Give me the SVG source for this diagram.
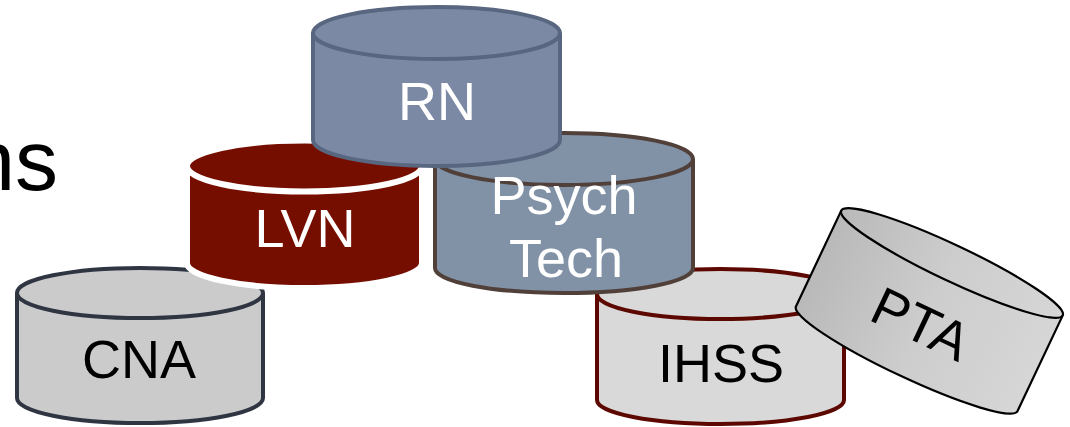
<svg xmlns="http://www.w3.org/2000/svg" width="1070" height="427" viewBox="0 0 1070 427">
<style>
  .lbl { font-family: "Liberation Sans", Arial, sans-serif; font-size: 54px; text-anchor: middle; }
  .w { fill: #ffffff; }
  .k { fill: #000000; }
  .body { stroke-linejoin: round; }
  .rim { fill: none; }
</style>
<defs>
  <linearGradient id="ptaGrad" x1="0" y1="0" x2="1" y2="0">
    <stop offset="0" stop-color="#b9b9b9"/>
    <stop offset="0.5" stop-color="#cdcdcd"/>
    <stop offset="1" stop-color="#d6d6d6"/>
  </linearGradient>
</defs>
<rect width="1070" height="427" fill="#ffffff"/>
<text x="58" y="190" text-anchor="end" font-family="Liberation Sans, Arial, sans-serif" font-size="86" fill="#000000">ns</text>

<g id="cna">
  <path class="body" d="M17,293 A123,25 0 0 1 263,293 V398 A123,25 0 0 1 17,398 Z" fill="#cbcbcb" stroke="#2f3642" stroke-width="4"/>
  <path class="rim" d="M17,293 A123,25 0 0 0 263,293" stroke="#2f3642" stroke-width="4"/>
  <text class="lbl k" x="139" y="378">CNA</text>
</g>

<g id="lvn">
  <path class="body" d="M187,166 A117.5,25.5 0 0 1 422,166 V263 A117.5,25 0 0 1 187,263 Z" fill="#760e00" stroke="#ffffff" stroke-width="6"/>
  <path class="rim" d="M187,166 A117.5,25.5 0 0 0 422,166" stroke="#ffffff" stroke-width="6"/>
  <text class="lbl w" x="305" y="247">LVN</text>
</g>

<g id="ihss">
  <path class="body" d="M597,294 A123.5,25 0 0 1 844,294 V400 A123.5,24 0 0 1 597,400 Z" fill="#d9d9d9" stroke="#5c0800" stroke-width="4"/>
  <path class="rim" d="M597,294 A123.5,25 0 0 0 844,294" stroke="#5c0800" stroke-width="4"/>
  <text class="lbl k" x="721" y="382">IHSS</text>
</g>

<g id="psychtech">
  <path class="body" d="M435,159 A129,26 0 0 1 693,159 V268 A129,25 0 0 1 435,268 Z" fill="#8192a7" stroke="#504039" stroke-width="4"/>
  <path class="rim" d="M435,159 A129,26 0 0 0 693,159" stroke="#504039" stroke-width="4"/>
  <text class="lbl w" x="564" y="214">Psych</text>
  <text class="lbl w" x="566" y="277">Tech</text>
</g>

<g id="rn">
  <path class="body" d="M313,33 A123.5,26 0 0 1 560,33 V140 A123.5,26 0 0 1 313,140 Z" fill="#7b89a5" stroke="#596680" stroke-width="4"/>
  <path class="rim" d="M313,33 A123.5,26 0 0 0 560,33" stroke="#596680" stroke-width="4"/>
  <text class="lbl w" x="437" y="120">RN</text>
</g>

<g id="pta" transform="translate(952,263) rotate(25.3)">
  <path class="body" d="M-122.5,0 A122.5,18 0 0 1 122.5,0 V106 A122.5,18 0 0 1 -122.5,106 Z" fill="url(#ptaGrad)" stroke="#000000" stroke-width="2.2"/>
  <path class="rim" d="M-122.5,0 A122.5,18 0 0 0 122.5,0" stroke="#000000" stroke-width="2.2"/>
  <text class="lbl k" x="-2" y="87">PTA</text>
</g>
</svg>
